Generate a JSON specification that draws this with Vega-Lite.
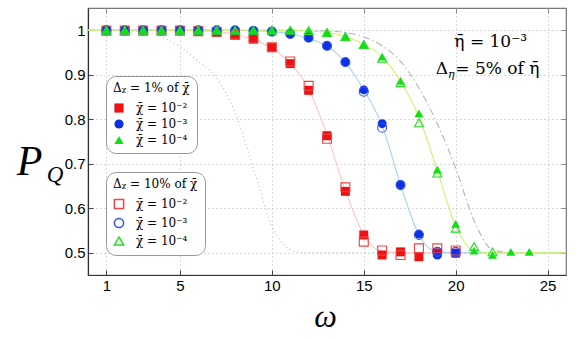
{
  "$schema": "https://vega.github.io/schema/vega-lite/v6.json",
  "width": 478,
  "height": 267,
  "autosize": {"type": "none"},
  "padding": {"left": 88, "top": 8, "right": 15, "bottom": 63},
  "background": "white",
  "config": {
    "view": {"stroke": "#777", "strokeWidth": 1.2},
    "axis": {
      "labelFont": "Liberation Sans",
      "labelFontSize": 15,
      "labelColor": "black",
      "tickColor": "#444",
      "tickSize": -5,
      "labelPadding": 8,
      "gridColor": "#b5b5b5",
      "gridDash": [1, 3],
      "gridWidth": 1,
      "domainColor": "#333",
      "domainWidth": 1.2,
      "titleFont": "Liberation Serif",
      "titleFontStyle": "italic",
      "titleFontWeight": "normal",
      "titleColor": "black"
    },
    "legend": {
      "titleFont": "DejaVu Serif",
      "titleFontWeight": "normal",
      "titleFontSize": 12,
      "titleColor": "black",
      "labelFont": "DejaVu Serif",
      "labelFontSize": 12,
      "labelColor": "black"
    }
  },
  "datasets": {
    "curves": [
      {"w": 0, "P": 1, "curve": "red"}, {"w": 5, "P": 1, "curve": "red"}, {"w": 6, "P": 0.999, "curve": "red"}, {"w": 7, "P": 0.997, "curve": "red"}, {"w": 8, "P": 0.991, "curve": "red"}, {"w": 9, "P": 0.979, "curve": "red"}, {"w": 10, "P": 0.96, "curve": "red"}, {"w": 11, "P": 0.926, "curve": "red"}, {"w": 12, "P": 0.868, "curve": "red"}, {"w": 13, "P": 0.765, "curve": "red"}, {"w": 14, "P": 0.64, "curve": "red"}, {"w": 15, "P": 0.54, "curve": "red"}, {"w": 16, "P": 0.503, "curve": "red"}, {"w": 17, "P": 0.5, "curve": "red"}, {"w": 26, "P": 0.5, "curve": "red"},
      {"w": 0, "P": 1, "curve": "blue"}, {"w": 8, "P": 1, "curve": "blue"}, {"w": 9, "P": 0.999, "curve": "blue"}, {"w": 10, "P": 0.997, "curve": "blue"}, {"w": 11, "P": 0.992, "curve": "blue"}, {"w": 12, "P": 0.982, "curve": "blue"}, {"w": 13, "P": 0.964, "curve": "blue"}, {"w": 14, "P": 0.928, "curve": "blue"}, {"w": 15, "P": 0.866, "curve": "blue"}, {"w": 16, "P": 0.786, "curve": "blue"}, {"w": 17, "P": 0.653, "curve": "blue"}, {"w": 18, "P": 0.54, "curve": "blue"}, {"w": 19, "P": 0.502, "curve": "blue"}, {"w": 20, "P": 0.5, "curve": "blue"}, {"w": 26, "P": 0.5, "curve": "blue"},
      {"w": 0, "P": 1, "curve": "green"}, {"w": 10, "P": 1, "curve": "green"}, {"w": 11, "P": 0.999, "curve": "green"}, {"w": 12, "P": 0.998, "curve": "green"}, {"w": 13, "P": 0.995, "curve": "green"}, {"w": 14, "P": 0.986, "curve": "green"}, {"w": 15, "P": 0.968, "curve": "green"}, {"w": 16, "P": 0.94, "curve": "green"}, {"w": 17, "P": 0.885, "curve": "green"}, {"w": 18, "P": 0.805, "curve": "green"}, {"w": 19, "P": 0.685, "curve": "green"}, {"w": 20, "P": 0.56, "curve": "green"}, {"w": 21, "P": 0.505, "curve": "green"}, {"w": 22, "P": 0.5, "curve": "green"}, {"w": 26, "P": 0.5, "curve": "green"},
      {"w": 0, "P": 1, "curve": "dashdot"}, {"w": 12, "P": 1, "curve": "dashdot"}, {"w": 13, "P": 0.998, "curve": "dashdot"}, {"w": 14, "P": 0.995, "curve": "dashdot"}, {"w": 15, "P": 0.985, "curve": "dashdot"}, {"w": 16, "P": 0.965, "curve": "dashdot"}, {"w": 17, "P": 0.93, "curve": "dashdot"}, {"w": 18, "P": 0.87, "curve": "dashdot"}, {"w": 19, "P": 0.79, "curve": "dashdot"}, {"w": 20, "P": 0.69, "curve": "dashdot"}, {"w": 21, "P": 0.572, "curve": "dashdot"}, {"w": 22, "P": 0.507, "curve": "dashdot"}, {"w": 23, "P": 0.5, "curve": "dashdot"}, {"w": 26, "P": 0.5, "curve": "dashdot"},
      {"w": 0, "P": 1, "curve": "dotted"}, {"w": 1, "P": 1, "curve": "dotted"}, {"w": 2, "P": 0.999, "curve": "dotted"}, {"w": 3, "P": 0.996, "curve": "dotted"}, {"w": 4, "P": 0.985, "curve": "dotted"}, {"w": 5, "P": 0.963, "curve": "dotted"}, {"w": 6, "P": 0.93, "curve": "dotted"}, {"w": 7, "P": 0.893, "curve": "dotted"}, {"w": 8, "P": 0.815, "curve": "dotted"}, {"w": 9, "P": 0.69, "curve": "dotted"}, {"w": 10, "P": 0.56, "curve": "dotted"}, {"w": 11, "P": 0.507, "curve": "dotted"}, {"w": 11.8, "P": 0.5, "curve": "dotted"}, {"w": 26, "P": 0.5, "curve": "dotted"}
    ],
    "filled": [
      {"w": 1, "P": 1.0, "chi1": "χ̄ = 10⁻²"}, {"w": 2, "P": 1.0, "chi1": "χ̄ = 10⁻²"}, {"w": 3, "P": 1.0, "chi1": "χ̄ = 10⁻²"}, {"w": 4, "P": 1.0, "chi1": "χ̄ = 10⁻²"}, {"w": 5, "P": 1.0, "chi1": "χ̄ = 10⁻²"}, {"w": 6, "P": 0.997, "chi1": "χ̄ = 10⁻²"}, {"w": 7, "P": 0.995, "chi1": "χ̄ = 10⁻²"}, {"w": 8, "P": 0.989, "chi1": "χ̄ = 10⁻²"}, {"w": 9, "P": 0.98, "chi1": "χ̄ = 10⁻²"}, {"w": 10, "P": 0.961, "chi1": "χ̄ = 10⁻²"}, {"w": 11, "P": 0.925, "chi1": "χ̄ = 10⁻²"}, {"w": 12, "P": 0.865, "chi1": "χ̄ = 10⁻²"}, {"w": 13, "P": 0.763, "chi1": "χ̄ = 10⁻²"}, {"w": 14, "P": 0.638, "chi1": "χ̄ = 10⁻²"}, {"w": 15, "P": 0.54, "chi1": "χ̄ = 10⁻²"}, {"w": 16, "P": 0.495, "chi1": "χ̄ = 10⁻²"}, {"w": 17, "P": 0.502, "chi1": "χ̄ = 10⁻²"}, {"w": 18, "P": 0.491, "chi1": "χ̄ = 10⁻²"}, {"w": 19, "P": 0.5, "chi1": "χ̄ = 10⁻²"}, {"w": 20, "P": 0.499, "chi1": "χ̄ = 10⁻²"},
      {"w": 1, "P": 1.0, "chi1": "χ̄ = 10⁻³"}, {"w": 2, "P": 1.0, "chi1": "χ̄ = 10⁻³"}, {"w": 3, "P": 1.0, "chi1": "χ̄ = 10⁻³"}, {"w": 4, "P": 1.0, "chi1": "χ̄ = 10⁻³"}, {"w": 5, "P": 1.0, "chi1": "χ̄ = 10⁻³"}, {"w": 6, "P": 1.0, "chi1": "χ̄ = 10⁻³"}, {"w": 7, "P": 1.0, "chi1": "χ̄ = 10⁻³"}, {"w": 8, "P": 1.0, "chi1": "χ̄ = 10⁻³"}, {"w": 9, "P": 0.999, "chi1": "χ̄ = 10⁻³"}, {"w": 10, "P": 0.997, "chi1": "χ̄ = 10⁻³"}, {"w": 11, "P": 0.991, "chi1": "χ̄ = 10⁻³"}, {"w": 12, "P": 0.983, "chi1": "χ̄ = 10⁻³"}, {"w": 13, "P": 0.965, "chi1": "χ̄ = 10⁻³"}, {"w": 14, "P": 0.929, "chi1": "χ̄ = 10⁻³"}, {"w": 15, "P": 0.866, "chi1": "χ̄ = 10⁻³"}, {"w": 16, "P": 0.79, "chi1": "χ̄ = 10⁻³"}, {"w": 17, "P": 0.653, "chi1": "χ̄ = 10⁻³"}, {"w": 18, "P": 0.542, "chi1": "χ̄ = 10⁻³"}, {"w": 19, "P": 0.495, "chi1": "χ̄ = 10⁻³"}, {"w": 20, "P": 0.499, "chi1": "χ̄ = 10⁻³"},
      {"w": 1, "P": 1.0, "chi1": "χ̄ = 10⁻⁴"}, {"w": 2, "P": 1.0, "chi1": "χ̄ = 10⁻⁴"}, {"w": 3, "P": 1.0, "chi1": "χ̄ = 10⁻⁴"}, {"w": 4, "P": 1.0, "chi1": "χ̄ = 10⁻⁴"}, {"w": 5, "P": 1.0, "chi1": "χ̄ = 10⁻⁴"}, {"w": 6, "P": 1.0, "chi1": "χ̄ = 10⁻⁴"}, {"w": 7, "P": 1.0, "chi1": "χ̄ = 10⁻⁴"}, {"w": 8, "P": 1.0, "chi1": "χ̄ = 10⁻⁴"}, {"w": 9, "P": 1.0, "chi1": "χ̄ = 10⁻⁴"}, {"w": 10, "P": 1.0, "chi1": "χ̄ = 10⁻⁴"}, {"w": 11, "P": 1.0, "chi1": "χ̄ = 10⁻⁴"}, {"w": 12, "P": 0.999, "chi1": "χ̄ = 10⁻⁴"}, {"w": 13, "P": 0.996, "chi1": "χ̄ = 10⁻⁴"}, {"w": 14, "P": 0.987, "chi1": "χ̄ = 10⁻⁴"}, {"w": 15, "P": 0.969, "chi1": "χ̄ = 10⁻⁴"}, {"w": 16, "P": 0.941, "chi1": "χ̄ = 10⁻⁴"}, {"w": 17, "P": 0.886, "chi1": "χ̄ = 10⁻⁴"}, {"w": 18, "P": 0.813, "chi1": "χ̄ = 10⁻⁴"}, {"w": 19, "P": 0.687, "chi1": "χ̄ = 10⁻⁴"}, {"w": 20, "P": 0.565, "chi1": "χ̄ = 10⁻⁴"}, {"w": 21, "P": 0.505, "chi1": "χ̄ = 10⁻⁴"}, {"w": 22, "P": 0.495, "chi1": "χ̄ = 10⁻⁴"}, {"w": 23, "P": 0.502, "chi1": "χ̄ = 10⁻⁴"}, {"w": 24, "P": 0.502, "chi1": "χ̄ = 10⁻⁴"}
    ],
    "open": [
      {"w": 1, "P": 0.999, "chi2": "χ̄ = 10⁻²"}, {"w": 2, "P": 0.999, "chi2": "χ̄ = 10⁻²"}, {"w": 3, "P": 0.999, "chi2": "χ̄ = 10⁻²"}, {"w": 4, "P": 0.999, "chi2": "χ̄ = 10⁻²"}, {"w": 5, "P": 0.999, "chi2": "χ̄ = 10⁻²"}, {"w": 6, "P": 0.998, "chi2": "χ̄ = 10⁻²"}, {"w": 7, "P": 0.996, "chi2": "χ̄ = 10⁻²"}, {"w": 8, "P": 0.99, "chi2": "χ̄ = 10⁻²"}, {"w": 9, "P": 0.982, "chi2": "χ̄ = 10⁻²"}, {"w": 10, "P": 0.962, "chi2": "χ̄ = 10⁻²"}, {"w": 11, "P": 0.93, "chi2": "χ̄ = 10⁻²"}, {"w": 12, "P": 0.875, "chi2": "χ̄ = 10⁻²"}, {"w": 13, "P": 0.756, "chi2": "χ̄ = 10⁻²"}, {"w": 14, "P": 0.647, "chi2": "χ̄ = 10⁻²"}, {"w": 15, "P": 0.525, "chi2": "χ̄ = 10⁻²"}, {"w": 16, "P": 0.505, "chi2": "χ̄ = 10⁻²"}, {"w": 17, "P": 0.495, "chi2": "χ̄ = 10⁻²"}, {"w": 18, "P": 0.51, "chi2": "χ̄ = 10⁻²"}, {"w": 19, "P": 0.51, "chi2": "χ̄ = 10⁻²"}, {"w": 20, "P": 0.505, "chi2": "χ̄ = 10⁻²"},
      {"w": 1, "P": 1.0, "chi2": "χ̄ = 10⁻³"}, {"w": 2, "P": 1.0, "chi2": "χ̄ = 10⁻³"}, {"w": 3, "P": 1.0, "chi2": "χ̄ = 10⁻³"}, {"w": 4, "P": 1.0, "chi2": "χ̄ = 10⁻³"}, {"w": 5, "P": 1.0, "chi2": "χ̄ = 10⁻³"}, {"w": 6, "P": 1.0, "chi2": "χ̄ = 10⁻³"}, {"w": 7, "P": 1.0, "chi2": "χ̄ = 10⁻³"}, {"w": 8, "P": 1.0, "chi2": "χ̄ = 10⁻³"}, {"w": 9, "P": 0.999, "chi2": "χ̄ = 10⁻³"}, {"w": 10, "P": 0.997, "chi2": "χ̄ = 10⁻³"}, {"w": 11, "P": 0.992, "chi2": "χ̄ = 10⁻³"}, {"w": 12, "P": 0.983, "chi2": "χ̄ = 10⁻³"}, {"w": 13, "P": 0.965, "chi2": "χ̄ = 10⁻³"}, {"w": 14, "P": 0.928, "chi2": "χ̄ = 10⁻³"}, {"w": 15, "P": 0.862, "chi2": "χ̄ = 10⁻³"}, {"w": 16, "P": 0.781, "chi2": "χ̄ = 10⁻³"}, {"w": 17, "P": 0.652, "chi2": "χ̄ = 10⁻³"}, {"w": 18, "P": 0.54, "chi2": "χ̄ = 10⁻³"}, {"w": 19, "P": 0.502, "chi2": "χ̄ = 10⁻³"}, {"w": 20, "P": 0.502, "chi2": "χ̄ = 10⁻³"},
      {"w": 1, "P": 1.0, "chi2": "χ̄ = 10⁻⁴"}, {"w": 2, "P": 1.0, "chi2": "χ̄ = 10⁻⁴"}, {"w": 3, "P": 1.0, "chi2": "χ̄ = 10⁻⁴"}, {"w": 4, "P": 1.0, "chi2": "χ̄ = 10⁻⁴"}, {"w": 5, "P": 1.0, "chi2": "χ̄ = 10⁻⁴"}, {"w": 6, "P": 1.0, "chi2": "χ̄ = 10⁻⁴"}, {"w": 7, "P": 1.0, "chi2": "χ̄ = 10⁻⁴"}, {"w": 8, "P": 1.0, "chi2": "χ̄ = 10⁻⁴"}, {"w": 9, "P": 1.0, "chi2": "χ̄ = 10⁻⁴"}, {"w": 10, "P": 1.0, "chi2": "χ̄ = 10⁻⁴"}, {"w": 11, "P": 1.0, "chi2": "χ̄ = 10⁻⁴"}, {"w": 12, "P": 0.999, "chi2": "χ̄ = 10⁻⁴"}, {"w": 13, "P": 0.995, "chi2": "χ̄ = 10⁻⁴"}, {"w": 14, "P": 0.986, "chi2": "χ̄ = 10⁻⁴"}, {"w": 15, "P": 0.968, "chi2": "χ̄ = 10⁻⁴"}, {"w": 16, "P": 0.937, "chi2": "χ̄ = 10⁻⁴"}, {"w": 17, "P": 0.882, "chi2": "χ̄ = 10⁻⁴"}, {"w": 18, "P": 0.792, "chi2": "χ̄ = 10⁻⁴"}, {"w": 19, "P": 0.679, "chi2": "χ̄ = 10⁻⁴"}, {"w": 20, "P": 0.555, "chi2": "χ̄ = 10⁻⁴"}, {"w": 21, "P": 0.514, "chi2": "χ̄ = 10⁻⁴"}, {"w": 22, "P": 0.502, "chi2": "χ̄ = 10⁻⁴"}
    ]
  },
  "layer": [
    {
      "data": {"name": "curves"},
      "transform": [{"filter": "datum.curve === 'dotted'"}],
      "mark": {"type": "line", "color": "#bdbdbd", "strokeWidth": 1.2, "strokeDash": [1, 3], "interpolate": "monotone"},
      "encoding": {
        "x": {"field": "w", "type": "quantitative", "scale": {"domain": [0, 26], "nice": false, "zero": false},
              "axis": {"orient": "top", "labels": false, "grid": false, "domain": false, "values": [1, 5, 10, 15, 20, 25], "tickSize": -5, "tickColor": "#888", "title": null}},
        "y": {"field": "P", "type": "quantitative", "scale": {"domain": [0.45, 1.05], "nice": false, "zero": false},
              "axis": {"orient": "right", "labels": false, "grid": false, "domain": false, "values": [0.5, 0.6, 0.7, 0.8, 0.9, 1], "tickSize": -5, "tickColor": "#888", "title": null}}
      }
    },
    {
      "data": {"name": "curves"},
      "transform": [{"filter": "datum.curve === 'dashdot'"}],
      "mark": {"type": "line", "color": "#b4b4b4", "strokeWidth": 1.1, "strokeDash": [7, 3, 1.5, 3], "interpolate": "monotone"},
      "encoding": {
        "x": {"field": "w", "type": "quantitative", "axis": null},
        "y": {"field": "P", "type": "quantitative", "axis": null}
      }
    },
    {
      "data": {"name": "curves"},
      "transform": [{"filter": "datum.curve === 'red'"}],
      "mark": {"type": "line", "color": "#ffc4c4", "strokeWidth": 1.1, "interpolate": "monotone"},
      "encoding": {
        "x": {"field": "w", "type": "quantitative", "axis": null},
        "y": {"field": "P", "type": "quantitative", "axis": null}
      }
    },
    {
      "data": {"name": "curves"},
      "transform": [{"filter": "datum.curve === 'blue'"}],
      "mark": {"type": "line", "color": "#a8d6f0", "strokeWidth": 1.1, "interpolate": "monotone"},
      "encoding": {
        "x": {"field": "w", "type": "quantitative", "axis": null},
        "y": {"field": "P", "type": "quantitative", "axis": null}
      }
    },
    {
      "data": {"name": "curves"},
      "transform": [{"filter": "datum.curve === 'green'"}],
      "mark": {"type": "line", "color": "#cdf36a", "strokeWidth": 1.1, "interpolate": "monotone"},
      "encoding": {
        "x": {"field": "w", "type": "quantitative", "axis": null},
        "y": {"field": "P", "type": "quantitative", "axis": null}
      }
    },
    {
      "data": {"name": "filled"},
      "mark": {"type": "point", "filled": true, "size": 80, "opacity": 1},
      "encoding": {
        "x": {"field": "w", "type": "quantitative",
              "axis": {"values": [1, 5, 10, 15, 20, 25], "grid": true, "title": "ω", "titleFontSize": 32, "titleX": 237, "titleY": 51, "titleBaseline": "alphabetic", "titleAlign": "center"}},
        "y": {"field": "P", "type": "quantitative",
              "axis": {"values": [0.5, 0.6, 0.7, 0.8, 0.9, 1], "format": "~g", "grid": true, "title": "P", "titleFontSize": 42, "titleAngle": 0, "titleX": -59, "titleY": 166, "titleBaseline": "alphabetic", "titleAlign": "center"}},
        "color": {"field": "chi1", "type": "nominal", "scale": {"range": ["#ee1111", "#0b31e2", "#12dd12"]},
                  "legend": {"title": "Δᵪ = 1% of χ̄", "orient": "none", "legendX": 18, "legendY": 68, "fillColor": "white", "strokeColor": "#999", "cornerRadius": 10, "padding": 7, "titlePadding": 7, "rowPadding": 4, "symbolSize": 85, "labelOffset": 11}},
        "shape": {"field": "chi1", "type": "nominal", "scale": {"range": ["square", "circle", "triangle-up"]},
                  "legend": {"title": "Δᵪ = 1% of χ̄", "orient": "none", "legendX": 18, "legendY": 68, "fillColor": "white", "strokeColor": "#999", "cornerRadius": 10, "padding": 7, "titlePadding": 7, "rowPadding": 4, "symbolSize": 85, "labelOffset": 11}}
      }
    },
    {
      "data": {"name": "open"},
      "mark": {"type": "point", "filled": false, "size": 80, "strokeWidth": 1.1, "opacity": 1},
      "encoding": {
        "x": {"field": "w", "type": "quantitative", "axis": null},
        "y": {"field": "P", "type": "quantitative", "axis": null},
        "stroke": {"field": "chi2", "type": "nominal", "scale": {"range": ["#f04444", "#3050f0", "#22e022"]},
                   "legend": {"title": "Δᵪ = 10% of χ̄", "orient": "none", "legendX": 18, "legendY": 164, "fillColor": "white", "strokeColor": "#999", "cornerRadius": 10, "padding": 7, "titlePadding": 7, "rowPadding": 3, "symbolSize": 85, "labelOffset": 11, "symbolFillColor": "transparent"}},
        "shape": {"field": "chi2", "type": "nominal", "scale": {"range": ["square", "circle", "triangle-up"]},
                  "legend": {"title": "Δᵪ = 10% of χ̄", "orient": "none", "legendX": 18, "legendY": 164, "fillColor": "white", "strokeColor": "#999", "cornerRadius": 10, "padding": 7, "titlePadding": 7, "rowPadding": 3, "symbolSize": 85, "labelOffset": 11, "symbolFillColor": "transparent"}}
      }
    },
    {
      "data": {"values": [{"w": 21.9, "P": 0.973, "t": "η̄ = 10⁻³"}]},
      "mark": {"type": "text", "font": "DejaVu Serif", "fontSize": 17, "align": "center", "baseline": "middle", "color": "black"},
      "encoding": {
        "x": {"field": "w", "type": "quantitative", "axis": null},
        "y": {"field": "P", "type": "quantitative", "axis": null},
        "text": {"field": "t"}
      }
    },
    {
      "data": {"values": [{"w": 18.91, "P": 0.912, "t": "Δ"}, {"w": 19.98, "P": 0.912, "t": "= 5% of η̄"}]},
      "mark": {"type": "text", "font": "DejaVu Serif", "fontSize": 17, "align": "left", "baseline": "middle", "color": "black"},
      "encoding": {
        "x": {"field": "w", "type": "quantitative", "axis": null},
        "y": {"field": "P", "type": "quantitative", "axis": null},
        "text": {"field": "t"}
      }
    },
    {
      "data": {"values": [{"w": 19.58, "P": 0.912, "t": "η"}]},
      "mark": {"type": "text", "font": "DejaVu Serif", "fontSize": 11, "align": "left", "baseline": "middle", "dy": 6, "color": "black", "fontStyle": "italic"},
      "encoding": {
        "x": {"field": "w", "type": "quantitative", "axis": null},
        "y": {"field": "P", "type": "quantitative", "axis": null},
        "text": {"field": "t"}
      }
    },
    {
      "data": {"values": [{"w": -2.25, "P": 0.674, "t": "Q"}]},
      "mark": {"type": "text", "font": "Liberation Serif", "fontSize": 23, "fontStyle": "italic", "align": "left", "baseline": "middle", "color": "black"},
      "encoding": {
        "x": {"field": "w", "type": "quantitative", "axis": null},
        "y": {"field": "P", "type": "quantitative", "axis": null},
        "text": {"field": "t"}
      }
    }
  ],
  "resolve": {
    "scale": {"color": "independent", "shape": "independent", "stroke": "independent"},
    "axis": {"x": "independent", "y": "independent"}
  }
}
